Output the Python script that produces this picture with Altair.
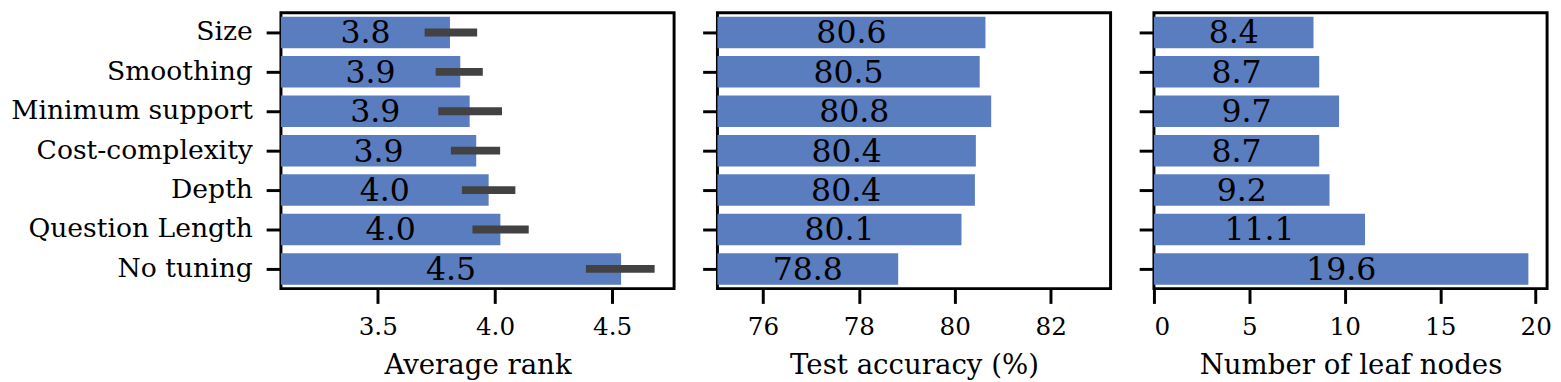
import altair as alt
import pandas as pd

methods = ["Size", "Smoothing", "Minimum support", "Cost-complexity",
           "Depth", "Question Length", "No tuning"]
avg_rank = [3.808, 3.852, 3.892, 3.920, 3.973, 4.023, 4.538]
rank_lo = [3.700, 3.747, 3.758, 3.812, 3.859, 3.904, 4.388]
rank_hi = [3.924, 3.948, 4.030, 4.022, 4.087, 4.144, 4.681]
test_acc = [80.64, 80.52, 80.76, 80.44, 80.42, 80.14, 78.82]
leaf_nodes = [8.36, 8.66, 9.70, 8.66, 9.20, 11.06, 19.62]

rank_ticks = [3.5, 4.0, 4.5]
acc_ticks = [76, 78, 80, 82]
leaf_ticks = [0, 5, 10, 15, 20]

rank_domain = [3.087, 4.764]
acc_domain = [75.05, 83.25]
leaf_domain = [0, 20.6]

df = pd.DataFrame({
    "method": methods,
    "rank": avg_rank,
    "lo": rank_lo,
    "hi": rank_hi,
    "acc": test_acc,
    "leaf": leaf_nodes,
})

FONT = "DejaVu Serif"
BAR = "#597DBF"
ERR = "#424242"


def make_y(show_labels):
    return alt.Y(
        "method:N", sort=methods, title=None,
        scale=alt.Scale(paddingInner=0.2, paddingOuter=0.1),
        axis=alt.Axis(
            labels=show_labels, ticks=True, tickSize=15, tickWidth=3,
            tickColor="black", domain=False, grid=False,
            labelFont=FONT, labelFontSize=27, labelColor="black",
            labelPadding=14, labelLimit=500,
            minExtent=275 if show_labels else 15,
            maxExtent=275 if show_labels else 15,
        ),
    )


def make_x(field, domain, ticks, fmt, title):
    return alt.X(
        f"{field}:Q", title=title,
        scale=alt.Scale(domain=domain, nice=False, zero=False),
        axis=alt.Axis(
            values=ticks, format=fmt, tickSize=15, tickWidth=3,
            tickColor="black", domain=False, grid=False,
            labelFont=FONT, labelFontSize=25, labelColor="black",
            labelPadding=12, titleFont=FONT, titleFontSize=28,
            titleFontWeight="normal", titleColor="black", titlePadding=12,
        ),
    )


def panel(field, domain, ticks, fmt, title, show_labels, err=False):
    base = alt.Chart(df)
    y = make_y(show_labels)
    bars = base.mark_bar(color=BAR).encode(
        y=y,
        x=make_x(field, domain, ticks, fmt, title),
        x2=alt.X2(datum=domain[0]),
    )
    layers = [bars]
    if err:
        errs = base.mark_rule(color=ERR, strokeWidth=8, strokeCap="butt").encode(
            y=y,
            x=make_x("lo", domain, ticks, fmt, title),
            x2="hi:Q",
        )
        layers.append(errs)
    text = base.transform_calculate(
        mid=f"({domain[0]} + datum['{field}']) / 2"
    ).mark_text(font=FONT, fontSize=32, color="black", align="center",
                baseline="alphabetic", dy=11).encode(
        y=y,
        x=make_x("mid", domain, ticks, fmt, title),
        text=alt.Text(f"{field}:Q", format=".1f"),
    )
    layers.append(text)
    return alt.layer(*layers).properties(width=399, height=280)


p1 = panel("rank", rank_domain, rank_ticks, ".1f", "Average rank", True, err=True)
p2 = panel("acc", acc_domain, acc_ticks, "d", "Test accuracy (%)", False)
p3 = panel("leaf", leaf_domain, leaf_ticks, "d", "Number of leaf nodes", False)

chart = alt.hconcat(p1, p2, p3, spacing=24).properties(
    padding={"left": 0, "top": 0, "right": 0, "bottom": 0},
    background="white",
).configure_view(
    stroke="black", strokeWidth=3
)

chart.save("out.html", embed_options={"renderer": "svg", "actions": False})
